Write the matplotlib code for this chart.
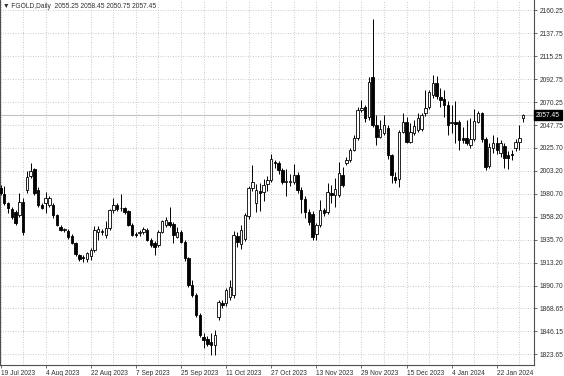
import matplotlib
matplotlib.use('Agg')
import matplotlib.pyplot as plt
import matplotlib.transforms as mtransforms
import numpy as np

opens = [1986, 1980, 1971.5, 1966, 1963, 1960, 1973, 1984.5, 1998, 2004.5,
         1984, 1970, 1971.5, 1970, 1970, 1959.5, 1948, 1945.5, 1944, 1939,
         1932, 1920.5, 1919, 1917, 1919.5, 1925.5, 1943.5, 1943.5, 1940, 1947,
         1965, 1970, 1966.5, 1966.5, 1964, 1950, 1941.5, 1942, 1943, 1945,
         1935.5, 1932, 1930.5, 1943.5, 1950, 1952.5, 1951.5, 1938.5, 1943.5, 1933.5,
         1917.5, 1891.5, 1881.5, 1862, 1840.5, 1838, 1836, 1832.5, 1860, 1874,
         1873.5, 1880, 1882, 1939.5, 1931, 1936, 1958.5, 1986, 1972, 1983,
         1982.5, 1990.5, 1994, 2012, 2010.5, 2004, 1992, 1992, 1992.5, 1999,
         1984.5, 1975.5, 1962.5, 1961, 1941, 1950, 1964.5, 1963, 1981, 1979,
         1979.5, 1999, 2010.5, 2013.5, 2023.5, 2035, 2062.5, 2066, 2056, 2095,
         2048, 2036.5, 2040, 2045, 2018.5, 1997.5, 1995.5, 2041.5, 2051, 2031.5,
         2040, 2043, 2044.5, 2059.5, 2066, 2077, 2089, 2075, 2073, 2067.5,
         2049.5, 2051, 2051, 2035, 2035, 2028.5, 2034, 2051, 2059.5, 2034,
         2008, 2025.5, 2030, 2021, 2027, 2018.5, 2020, 2025, 2031.5, 2055.25]

highs = [1989, 1988.5, 1973, 1968, 1965, 1981, 1976, 2002.5, 2010.5, 2006,
         1987, 1972, 1982.5, 1978, 1972, 1961, 1950, 1947, 1946, 1941,
         1933, 1922, 1921, 1924, 1928, 1949, 1949, 1946, 1953.5, 1966,
         1976.5, 1972, 1980, 1968, 1965, 1952, 1943, 1945.5, 1948, 1947,
         1937, 1934, 1945, 1955, 1958, 1968, 1953, 1948.5, 1945, 1935,
         1919, 1896, 1883, 1863.5, 1844, 1841, 1844, 1847, 1876.5, 1877,
         1888, 1896, 1944, 1943, 1950, 1962, 1988, 2008.5, 1990, 1991,
         1995, 1998, 2020, 2014, 2013, 2006, 2004.5, 2000, 2010, 2002,
         1987, 1978, 1966, 1964, 1952, 1974.5, 1967, 1991, 1989, 1996,
         2012, 2007, 2017, 2025, 2038, 2066, 2072.5, 2067.5, 2095, 2152,
         2057.5, 2053, 2057.5, 2048, 2020, 2002, 2043, 2059.5, 2056, 2049.5,
         2053, 2059.5, 2059.5, 2082, 2082.5, 2097, 2096, 2084, 2082, 2071,
         2067.5, 2071, 2053, 2046, 2053, 2054.5, 2064, 2062, 2061, 2036,
         2030, 2038, 2036, 2033, 2030, 2022, 2023, 2034, 2048, 2058.45]

lows = [1979, 1970, 1962, 1956, 1950, 1958, 1940, 1981, 1996, 1979,
        1968, 1965.5, 1962, 1968, 1957, 1949, 1944, 1943.5, 1936, 1931,
        1920, 1915, 1914, 1914, 1916, 1924, 1935, 1940, 1937, 1945,
        1962, 1964, 1964, 1961, 1949, 1939, 1938, 1939, 1941, 1934,
        1929, 1921, 1929, 1942, 1948, 1948, 1932, 1937, 1932, 1915,
        1889.5, 1879.5, 1860, 1840, 1829.5, 1832, 1823, 1823, 1857, 1869,
        1871, 1877, 1879, 1929, 1927, 1934, 1956, 1983, 1963, 1964,
        1974, 1983, 1992, 2006, 2000, 1990.5, 1978, 1988, 1990, 1981,
        1961.5, 1957, 1950, 1935, 1935, 1948, 1959, 1961, 1972, 1968,
        1977, 1987, 2009, 2012, 2022, 2033, 2061, 2051, 2053, 2046,
        2028.5, 2035, 2038, 2015, 1991, 1991, 1987.5, 2040, 2030, 2030,
        2038, 2041, 2042, 2057, 2064, 2074, 2073.5, 2066, 2056, 2038,
        2040, 2030, 2023.5, 2030, 2028.5, 2025, 2032, 2049.5, 2031, 2004,
        2006, 2021, 2020, 2017, 2006, 2005, 2014, 2022, 2023.5, 2050.75]

closes = [1981, 1971.5, 1966.5, 1958, 1952, 1973, 1943.5, 1997.5, 2002.5, 1981,
          1970, 1967, 1976, 1976, 1959.5, 1950, 1945, 1945.5, 1938, 1932.5,
          1921.5, 1916.5, 1918, 1923, 1926, 1945, 1946, 1944, 1947, 1965,
          1970, 1965.5, 1967, 1962.5, 1950, 1940, 1940.5, 1943, 1946, 1935.5,
          1930.5, 1929, 1943.5, 1953.5, 1955, 1950, 1940.5, 1943.5, 1933.5, 1917.5,
          1891.5, 1881.5, 1862, 1842.5, 1837.5, 1834, 1832.5, 1842.5, 1875, 1871.5,
          1886.5, 1889, 1940, 1933, 1945, 1959.5, 1986, 1992.5, 1984, 1981,
          1989, 1994, 2015, 2010.5, 2004, 1992.5, 1993, 1993.5, 1999, 1984.5,
          1975.5, 1962.5, 1952.5, 1938.5, 1950, 1964.5, 1961.5, 1982.5, 1979.5, 1985,
          2000.5, 1989, 2013.5, 2023.5, 2035, 2062.5, 2065, 2054.5, 2090.5, 2048,
          2036.5, 2044.5, 2048, 2018.5, 1999, 1994, 2041.5, 2051, 2031.5, 2041.5,
          2046.5, 2054.5, 2057.5, 2064.5, 2080.5, 2089, 2076, 2072.5, 2067.5, 2048,
          2051, 2049, 2033, 2033.5, 2030, 2034, 2052, 2059.5, 2034, 2007,
          2026, 2030, 2023.5, 2030, 2015.5, 2015.5, 2018.5, 2031.5, 2035, 2057.45]

date_labels = ['19 Jul 2023', '4 Aug 2023', '22 Aug 2023', '7 Sep 2023',
               '25 Sep 2023', '11 Oct 2023', '27 Oct 2023', '13 Nov 2023',
               '29 Nov 2023', '15 Dec 2023', '4 Jan 2024', '22 Jan 2024']
date_label_bars = [0, 12, 24, 36, 48, 60, 72, 84, 96, 108, 120, 132]
price_ticks = [2160.25, 2137.75, 2115.25, 2092.75, 2070.25, 2047.75, 2025.70,
               2003.20, 1980.70, 1958.20, 1935.70, 1913.20, 1890.70, 1868.65,
               1846.15, 1823.65]
symbol_title = 'FGOLD,Daily'
last_price = 2057.45

FONT = ['Liberation Sans', 'DejaVu Sans']
plt.rcParams['font.family'] = FONT

W, H = 564, 376
fig = plt.figure(figsize=(W / 100, H / 100), dpi=100)
fig.patch.set_facecolor('white')
ax = fig.add_axes([0, 11 / H, 534 / W, 1 - 11 / H])
ax.set_facecolor('white')

n = len(opens)
x = np.arange(n)
o = np.array(opens); h = np.array(highs); l = np.array(lows); c = np.array(closes)
up = c >= o

ax.set_xlim(-0.133, 141.9)
ax.set_ylim(1813.0, 2170.3)

# grid
for gx in range(0, 142, 6):
    ax.axvline(gx, color='#c4c4c4', lw=0.6, ls=(0, (1.2, 1.8)), zorder=0)
for py in price_ticks:
    ax.axhline(py, color='#c4c4c4', lw=0.6, ls=(0, (1.2, 1.8)), zorder=0)

# bid line
ax.axhline(last_price, color='#c0c0c0', lw=0.8, zorder=1)

# wicks and bodies
ax.vlines(x, l, h, color='black', lw=0.7, zorder=2)
bw = 0.65
ax.bar(x[up], np.maximum(c[up] - o[up], 0.4), bottom=o[up], width=bw,
       facecolor='white', edgecolor='black', linewidth=0.6, zorder=3)
ax.bar(x[~up], np.maximum(o[~up] - c[~up], 0.4), bottom=c[~up], width=bw,
       facecolor='black', edgecolor='black', linewidth=0.6, zorder=3)

# axes styling
ax.spines['top'].set_visible(False)
for s in ['left', 'right', 'bottom']:
    ax.spines[s].set_color('#505050')
    ax.spines[s].set_linewidth(0.8)

ax.yaxis.tick_right()
ax.set_yticks(price_ticks)
ax.set_yticklabels([f'{p:.2f}' for p in price_ticks], fontsize=4.8)
ax.tick_params(axis='y', length=2.5, width=0.6, pad=1.5, colors='#505050', labelcolor='#303030')

ax.set_xticks(date_label_bars)
ax.set_xticklabels(date_labels, fontsize=4.8, ha='left')
ax.tick_params(axis='x', length=2.5, width=0.6, pad=1.0, colors='#505050', labelcolor='#303030')

# last price box
trans = mtransforms.blended_transform_factory(ax.transAxes, ax.transData)
ax.text(1.004, last_price, f'{last_price:.2f}', transform=trans, fontsize=4.8,
        color='white', va='center', ha='left',
        bbox=dict(boxstyle='square,pad=0.25', facecolor='black', edgecolor='black'),
        zorder=10, clip_on=False)

# title
fig.text(3 / W, 1 - 6 / H, '\u25bc ' + symbol_title + '  ' + ' '.join(
    f'{v:.2f}' for v in [opens[-1], highs[-1], lows[-1], closes[-1]]),
    fontsize=4.8, color='#303030', va='center', ha='left')

fig.savefig('out.png', dpi=100, facecolor='white')
